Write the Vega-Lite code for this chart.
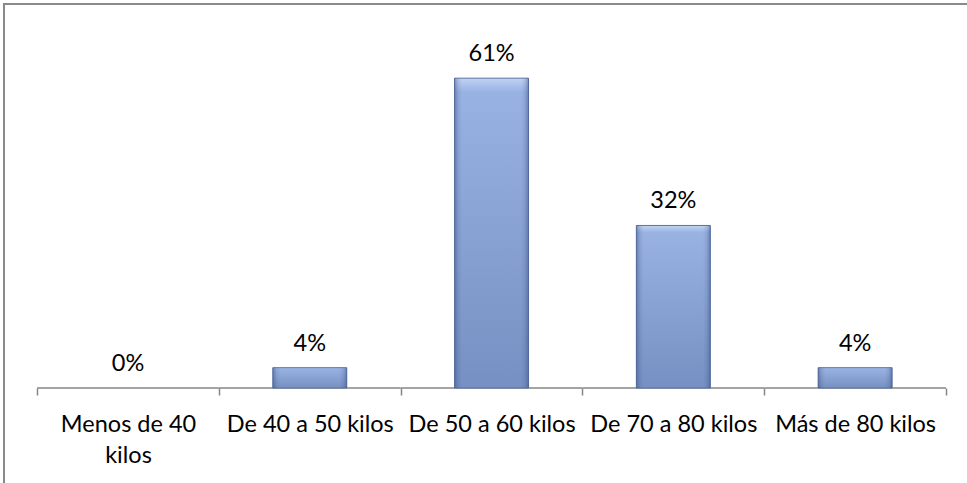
{
  "$schema": "https://vega.github.io/schema/vega-lite/v6.json",
  "width": 970,
  "height": 486,
  "autosize": {"type": "none"},
  "padding": {"left": 4, "top": 4, "right": -7, "bottom": -7},
  "background": "white",
  "config": {
    "view": {"stroke": "#8a8a8a", "strokeWidth": 2},
    "font": "Lato"
  },
  "data": {
    "values": [
      {"peso": "Menos de 40 kilos", "pct": 0},
      {"peso": "De 40 a 50 kilos", "pct": 0.04},
      {"peso": "De 50 a 60 kilos", "pct": 0.61},
      {"peso": "De 70 a 80 kilos", "pct": 0.32},
      {"peso": "Más de 80 kilos", "pct": 0.04}
    ]
  },
  "encoding": {
    "x": {
      "field": "peso",
      "type": "nominal",
      "sort": null,
      "scale": {"paddingInner": 0, "paddingOuter": 0.168, "align": 0.542},
      "axis": {
        "title": null,
        "domain": false,
        "tickBand": "extent",
        "tickSize": 7,
        "tickColor": "#868686",
        "tickWidth": 1.5,
        "labelAngle": 0,
        "labelFont": "Lato",
        "labelFontSize": 23.5,
        "labelColor": "#000000",
        "labelPadding": 17,
        "labelLineHeight": 31,
        "labelLimit": 0,
        "labelOverlap": false,
        "offset": -102,
        "labelExpr": "datum.label == 'Menos de 40 kilos' ? ['Menos de 40', 'kilos'] : datum.label"
      }
    }
  },
  "layer": [
    {
      "mark": {"type": "rect", "filled": false, "stroke": "#868686", "strokeWidth": 1.5},
      "encoding": {
        "y": {"datum": 0, "type": "quantitative", "scale": {"domain": [-0.2008, 0.756], "nice": false, "zero": false}, "axis": null},
        "y2": {"datum": 0}
      }
    },
    {
      "mark": {
        "type": "bar",
        "width": {"band": 0.407},
        "stroke": "#5a72a3",
        "strokeWidth": 1,
        "color": {
          "gradient": "linear",
          "x1": 0, "y1": 0, "x2": 0, "y2": 1,
          "stops": [
            {"offset": 0, "color": "#c2d4f3"},
            {"offset": 0.025, "color": "#a9c0ea"},
            {"offset": 0.045, "color": "#98b2e2"},
            {"offset": 1, "color": "#7690c3"}
          ]
        }
      },
      "encoding": {
        "y": {"field": "pct", "type": "quantitative", "axis": null},
        "y2": {"datum": 0},
        "strokeOpacity": {"condition": {"test": "datum.pct > 0", "value": 1}, "value": 0}
      }
    },
    {
      "mark": {
        "type": "bar",
        "width": {"band": 0.407},
        "color": {
          "gradient": "linear",
          "x1": 0, "y1": 0, "x2": 1, "y2": 0,
          "stops": [
            {"offset": 0, "color": "rgba(50,70,120,0.45)"},
            {"offset": 0.05, "color": "rgba(50,70,120,0.12)"},
            {"offset": 0.1, "color": "rgba(50,70,120,0)"},
            {"offset": 0.9, "color": "rgba(50,70,120,0)"},
            {"offset": 0.95, "color": "rgba(50,70,120,0.12)"},
            {"offset": 1, "color": "rgba(50,70,120,0.45)"}
          ]
        }
      },
      "encoding": {
        "y": {"field": "pct", "type": "quantitative"},
        "y2": {"datum": 0}
      }
    },
    {
      "mark": {"type": "text", "baseline": "middle", "dy": -24, "fontSize": 23.5, "font": "Lato", "color": "#000000"},
      "encoding": {
        "y": {"field": "pct", "type": "quantitative"},
        "text": {"field": "pct", "type": "quantitative", "format": ".0%"}
      }
    }
  ]
}
